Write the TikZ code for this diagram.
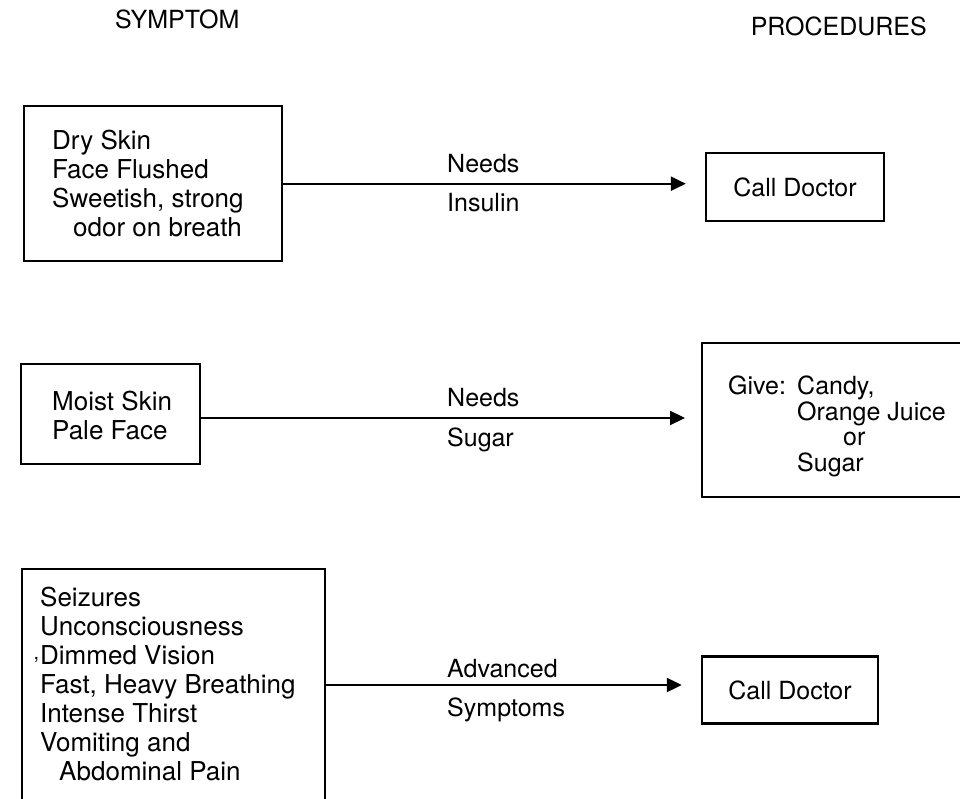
\documentclass[tikz,border=0pt]{standalone}
\usepackage{fontspec}
\setmainfont{TeX Gyre Heros}
\usetikzlibrary{arrows.meta}
\begin{document}
\begin{tikzpicture}[x=1pt,y=-1pt,
  txt/.style={font=\fontsize{25}{29}\selectfont,inner sep=0pt,align=left},
  symtxt/.style={txt,font=\fontsize{26}{29}\selectfont,anchor=north west},
  box/.style={draw,line width=2.4pt,inner sep=0pt},
  symbox/.style={box,anchor=north west},
  procbox/.style={box,font=\fontsize{25}{29}\selectfont},
  conn/.style={line width=2.2pt,-{Triangle[length=15pt,width=14pt]}},
]
\fill[white] (0,0) rectangle (960,799);
\clip (0,0) rectangle (960,799);

% headers
\node[txt,anchor=base west] (hsym) at (115,29) {SYMPTOM};
\node[txt,anchor=base east] (hproc) at (927,36) {PROCEDURES};

% row 1
\node[symbox,minimum width=258pt,minimum height=155pt] (s1) at (23,105) {};
\node[symtxt] (s1t) at (52,130)
  {Dry Skin\\Face Flushed\\Sweetish, strong\\\hspace*{21pt}odor on breath};
\node[procbox,minimum width=178pt,minimum height=68pt] (p1) at (795,187) {Call Doctor};
\draw[conn,shorten >=19pt] (s1.east) -- (s1.east -| p1.west);
\node[txt,anchor=base west] (l1a) at (447,173) {Needs};
\node[txt,anchor=base west] (l1b) at (447,212) {Insulin};

% row 2
\node[symbox,minimum width=179pt,minimum height=100pt] (s2) at (20,363) {};
\node[symtxt] (s2t) at (52,391) {Moist Skin\\Pale Face};
\node[symbox,minimum width=280pt,minimum height=154pt] (p2) at (701,342) {};
\node[txt,anchor=north west,font=\fontsize{25}{25.5}\selectfont] (p2t) at (728,376)
  {\makebox[69pt][l]{Give:}Candy,\\\hspace*{69pt}Orange Juice\\\hspace*{115pt}or\\\hspace*{69pt}Sugar};
\coordinate (a2) at (200,418);
\draw[conn,shorten >=16pt] (s2.east |- a2) -- (a2 -| p2.west);
\node[txt,anchor=base west] (l2a) at (447,406) {Needs};
\node[txt,anchor=base west] (l2b) at (447,446) {Sugar};

% row 3
\node[symbox,minimum width=303pt,minimum height=245pt] (s3) at (21,568) {};
\node[symtxt] (s3t) at (40,587)
  {Seizures\\Unconsciousness\\\llap{\raisebox{0.2em}{\fontsize{20}{20}\selectfont,}\hspace{1pt}}Dimmed Vision\\Fast, Heavy Breathing\\Intense Thirst\\Vomiting and\\\hspace*{19pt}Abdominal Pain};
\node[procbox,minimum width=176pt,minimum height=67pt] (p3) at (790,690) {Call Doctor};
\coordinate (a3) at (324,685);
\draw[conn,shorten >=19pt] (s3.east |- a3) -- (a3 -| p3.west);
\node[txt,anchor=base west] (l3a) at (447,677) {Advanced};
\node[txt,anchor=base west] (l3b) at (447,716) {Symptoms};
\end{tikzpicture}
\end{document}
